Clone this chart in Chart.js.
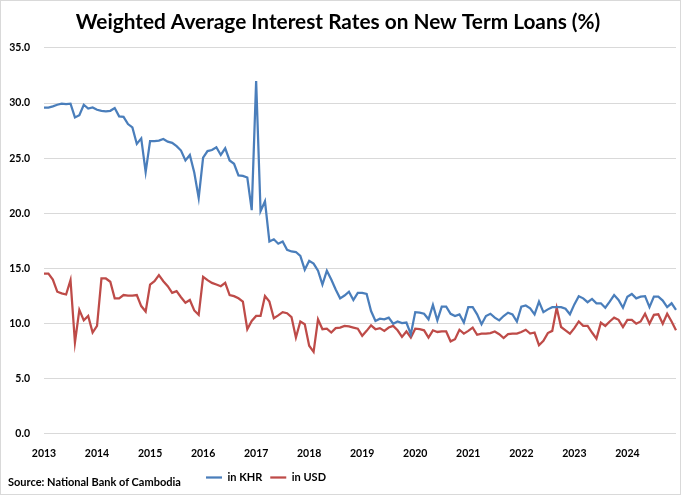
<!DOCTYPE html>
<html>
<head>
<meta charset="utf-8">
<script src="https://cdn.jsdelivr.net/npm/chart.js@4.4.1/dist/chart.umd.min.js"></script>
<style>
  html, body { margin: 0; padding: 0; background: #ffffff; }
  #wrap { position: relative; width: 683px; height: 496px; }
  #src { position: absolute; left: 8px; top: 475px; font: bold 11px Lato, "Liberation Sans", Arial, sans-serif; color: #000; white-space: nowrap; }
</style>
</head>
<body>
<div id="wrap">
  <canvas id="c" width="683" height="496"></canvas>
  <div id="src">Source: National Bank of Cambodia</div>
</div>
<script>
// ---- Data (monthly, Jan 2013 – Dec 2024) ----
const years = [2013, 2014, 2015, 2016, 2017, 2018, 2019, 2020, 2021, 2022, 2023, 2024];
const months = ['01','02','03','04','05','06','07','08','09','10','11','12'];

const khr = [
  // 2013
  29.6, 29.6, 29.7, 29.85, 29.95, 29.9, 29.95, 28.7, 28.9, 29.85, 29.5, 29.6,
  // 2014
  29.4, 29.3, 29.25, 29.3, 29.55, 28.8, 28.75, 28.1, 27.8, 26.3, 26.8, 23.75,
  // 2015
  26.55, 26.55, 26.6, 26.75, 26.5, 26.4, 26.1, 25.7, 24.8, 25.3, 23.7, 21.4,
  // 2016
  25.05, 25.65, 25.75, 26.0, 25.3, 25.9, 24.8, 24.5, 23.45, 23.4, 23.25, 20.3,
  // 2017
  32.0, 20.2, 21.1, 17.45, 17.65, 17.25, 17.45, 16.7, 16.55, 16.5, 16.15, 14.9,
  // 2018
  15.7, 15.45, 14.8, 13.55, 14.8, 14.0, 13.1, 12.3, 12.55, 12.9, 12.15, 12.8,
  // 2019
  12.8, 12.7, 11.15, 10.25, 10.45, 10.4, 10.55, 10.0, 10.2, 10.05, 10.1, 9.05,
  // 2020
  11.05, 11.0, 10.9, 10.4, 11.7, 10.3, 11.55, 11.55, 10.9, 10.7, 10.85, 10.1,
  // 2021
  11.5, 11.5, 10.85, 9.95, 10.7, 10.9, 10.55, 10.3, 10.7, 11.0, 10.85, 10.2,
  // 2022
  11.55, 11.65, 11.4, 10.85, 12.0, 11.05, 11.3, 11.5, 11.5, 11.5, 11.35, 10.85,
  // 2023
  11.75, 12.5, 12.3, 11.95, 12.25, 11.85, 11.85, 11.45, 12.0, 12.6, 12.15, 11.45,
  // 2024
  12.45, 12.7, 12.3, 12.45, 12.5, 11.5, 12.45, 12.45, 12.1, 11.5, 11.85, 11.25
];

const usd = [
  // 2013
  14.55, 14.55, 14.0, 12.9, 12.75, 12.65, 13.95, 8.3, 11.25, 10.3, 10.7, 9.2,
  // 2014
  9.8, 14.1, 14.1, 13.8, 12.3, 12.3, 12.6, 12.55, 12.55, 12.6, 11.6, 11.1,
  // 2015
  13.55, 13.85, 14.4, 13.85, 13.4, 12.8, 12.95, 12.4, 11.9, 12.15, 11.2, 10.8,
  // 2016
  14.25, 13.95, 13.7, 13.55, 13.4, 13.7, 12.6, 12.5, 12.3, 12.0, 9.5, 10.25,
  // 2017
  10.7, 10.7, 12.5, 12.0, 10.5, 10.75, 11.05, 10.95, 10.6, 8.75, 10.2, 9.95,
  // 2018
  8.0, 7.45, 10.4, 9.5, 9.55, 9.2, 9.6, 9.65, 9.8, 9.75, 9.65, 9.55,
  // 2019
  8.9, 9.35, 9.85, 9.5, 9.6, 9.35, 9.65, 9.8, 9.4, 8.8, 9.3, 8.75,
  // 2020
  9.55, 9.5, 9.4, 8.75, 9.4, 9.25, 9.3, 9.3, 8.4, 8.6, 9.45, 9.1,
  // 2021
  9.35, 9.65, 9.0, 9.1, 9.1, 9.15, 9.3, 9.05, 8.7, 9.05, 9.1, 9.1,
  // 2022
  9.25, 9.45, 9.1, 9.2, 8.05, 8.45, 9.15, 9.35, 11.45, 9.7, 9.4, 9.1,
  // 2023
  9.6, 10.2, 9.8, 9.8, 9.2, 8.65, 10.1, 9.8, 10.2, 10.55, 10.35, 9.7,
  // 2024
  10.35, 10.35, 10.0, 10.2, 10.9, 10.0, 10.8, 10.85, 10.0, 10.9, 10.2, 9.4
];

const yTicks = [0, 5, 10, 15, 20, 25, 30, 35];
const seriesNames = ['in KHR', 'in USD'];
const titleText = 'Weighted Average Interest Rates on New Term Loans (%)';

// category labels built from years/months
const labels = [];
years.forEach(y => months.forEach(m => labels.push(y + '-' + m)));

const FONT = 'Lato, "Liberation Sans", Arial, sans-serif';

const framePlugin = {
  id: 'frame',
  beforeDraw(chart) {
    const ctx = chart.ctx;
    ctx.save();
    ctx.fillStyle = '#ffffff';
    ctx.fillRect(0, 0, chart.width, chart.height);
    ctx.strokeStyle = '#d9d9d9';
    ctx.lineWidth = 1;
    ctx.strokeRect(0.5, 0.5, 680, 494);
    ctx.restore();
  }
};

const legendShift = {
  id: 'legendShift',
  afterLayout(chart) {
    const lg = chart.legend;
    if (!lg) return;
    const center = 266;
    const half = 120;
    lg.left = center - half;
    lg.right = center + half;
    lg.top = 464;
    lg.bottom = lg.top + lg.height;
  }
};

new Chart(document.getElementById('c'), {
  type: 'line',
  data: {
    labels: labels,
    datasets: [
      { label: seriesNames[0], data: khr, borderColor: '#4a7ebb', backgroundColor: '#4a7ebb', borderWidth: 2.25, pointRadius: 0, tension: 0 },
      { label: seriesNames[1], data: usd, borderColor: '#be4b48', backgroundColor: '#be4b48', borderWidth: 2.25, pointRadius: 0, tension: 0 }
    ]
  },
  options: {
    responsive: false,
    animation: false,
    layout: { padding: { left: 0, right: 7, top: 1, bottom: 4 } },
    plugins: {
      title: {
        display: true,
        text: titleText,
        color: '#000',
        font: { family: FONT, size: 20.8, weight: 'bold' },
        padding: { top: 9, bottom: 13 }
      },
      legend: {
        display: true,
        position: 'bottom',
        labels: {
          color: '#000',
          font: { family: FONT, size: 11, weight: 'bold' },
          usePointStyle: true,
          pointStyleWidth: 16,
          pointStyle: 'line',
          padding: 8
        }
      },
      tooltip: { enabled: false }
    },
    scales: {
      x: {
        type: 'category',
        offset: false,
        grid: { display: false, drawTicks: false },
        border: { display: false },
        ticks: {
          autoSkip: false,
          maxRotation: 0,
          minRotation: 0,
          padding: 13,
          color: '#000',
          font: { family: FONT, size: 10.5, weight: 'bold' },
          callback: function(v, i) { return i % 12 === 0 ? labels[i].slice(0, 4) : null; }
        },
        afterFit(scale) { scale.height = 29; }
      },
      y: {
        min: 0,
        max: 35,
        afterBuildTicks(scale) { scale.ticks = yTicks.map(v => ({ value: v })); },
        grid: { color: '#d9d9d9', lineWidth: 1, drawTicks: false },
        border: { display: false },
        ticks: {
          padding: 14,
          color: '#000',
          font: { family: FONT, size: 10.5, weight: 'bold' },
          callback: v => Number(v).toFixed(1)
        },
        afterFit(scale) { scale.width = 44; }
      }
    }
  },
  plugins: [framePlugin, legendShift]
});
</script>
</body>
</html>
